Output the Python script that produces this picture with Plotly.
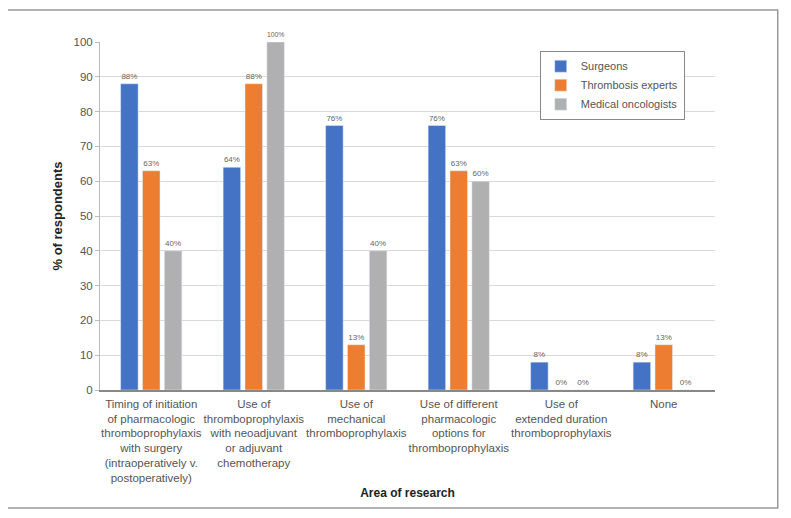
import plotly.graph_objects as go

categories = [
    "Timing of initiation<br>of pharmacologic<br>thromboprophylaxis<br>with surgery<br>(intraoperatively v.<br>postoperatively)",
    "Use of<br>thromboprophylaxis<br>with neoadjuvant<br>or adjuvant<br>chemotherapy",
    "Use of<br>mechanical<br>thromboprophylaxis",
    "Use of different<br>pharmacologic<br>options for<br>thromboprophylaxis",
    "Use of<br>extended duration<br>thromboprophylaxis",
    "None",
]
surgeons = [88, 64, 76, 76, 8, 8]
thrombosis = [63, 88, 13, 63, 0, 13]
oncologists = [40, 100, 40, 60, 0, 0]
series_names = ["Surgeons", "Thrombosis experts", "Medical oncologists"]
colors = ["#4472C4", "#ED7D31", "#B0B0B0"]

FONT = "Liberation Sans"
fig = go.Figure()
for name, vals, col in zip(series_names, [surgeons, thrombosis, oncologists], colors):
    fig.add_trace(go.Bar(
        x=categories, y=vals, name=name, marker_color=col,
        text=[f"{v}%" for v in vals], textposition="outside",
        textfont=dict(size=8, color="#666666", family=FONT),
        cliponaxis=False,
    ))

fig.update_layout(
    width=791, height=518,
    margin=dict(l=92, r=84, t=34, b=136),
    paper_bgcolor="white", plot_bgcolor="white",
    barmode="group", bargap=0.36, bargroupgap=0.2,
    font=dict(family=FONT, size=11.5, color="#444444"),
    showlegend=True,
    legend=dict(x=0.715, y=0.975, xanchor="left", yanchor="top",
                bordercolor="#888888", borderwidth=1, bgcolor="white",
                itemwidth=30,
                font=dict(size=11, color="#555555"), tracegroupgap=2),
    xaxis=dict(showline=True, linecolor="#888888", linewidth=1.5, tickangle=0,
               ticks="outside", ticklen=2, tickcolor="white",
               tickfont=dict(size=11.5, color="#555555"),
               title=dict(text="<b>Area of research</b>", font=dict(size=12, color="#222222"), standoff=5)),
    yaxis=dict(range=[0, 100], dtick=10, showgrid=True, gridcolor="#D9D9D9", gridwidth=1,
               showline=True, linecolor="#BBBBBB", zeroline=False,
               ticks="outside", ticklen=4, tickcolor="#BBBBBB",
               tickfont=dict(size=11.5, color="#555555"),
               title=dict(text="<b>% of respondents</b>", font=dict(size=13, color="#222222"), standoff=7)),
    shapes=[dict(type="rect", xref="paper", yref="paper",
                 x0=-0.153, x1=1.102, y0=-0.339, y1=1.092,
                 line=dict(color="#999999", width=1.5))],
)
fig.write_html("out.html")
